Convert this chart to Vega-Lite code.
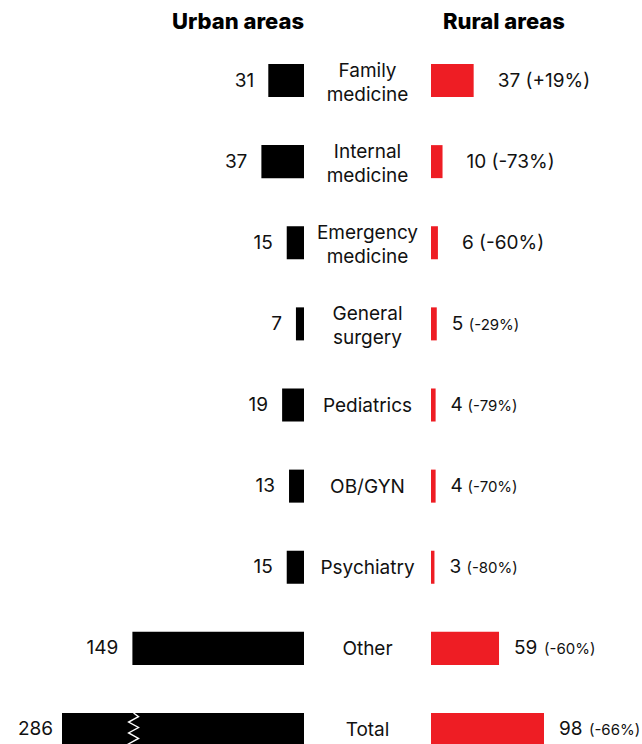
{
  "$schema": "https://vega.github.io/schema/vega-lite/v6.json",
  "padding": {"top": 8, "left": 0, "right": 0, "bottom": 0},
  "spacing": 0,
  "background": "white",
  "config": {
    "view": {"stroke": null},
    "font": "Inter",
    "title": {"font": "Inter", "fontSize": 22, "fontWeight": 800, "color": "#000", "offset": 30},
    "text": {"font": "Inter", "fontSize": 19, "color": "#111", "baseline": "middle"}
  },
  "data": {
    "values": [
      {"specialty": "Family\nmedicine", "urban": 31, "rural": 37, "change": "+19%"},
      {"specialty": "Internal\nmedicine", "urban": 37, "rural": 10, "change": "-73%"},
      {"specialty": "Emergency\nmedicine", "urban": 15, "rural": 6, "change": "-60%"},
      {"specialty": "General\nsurgery", "urban": 7, "rural": 5, "change": "-29%"},
      {"specialty": "Pediatrics", "urban": 19, "rural": 4, "change": "-79%"},
      {"specialty": "OB/GYN", "urban": 13, "rural": 4, "change": "-70%"},
      {"specialty": "Psychiatry", "urban": 15, "rural": 3, "change": "-80%"},
      {"specialty": "Other", "urban": 149, "rural": 59, "change": "-60%"},
      {"specialty": "Total", "urban": 286, "rural": 98, "change": "-66%"}
    ]
  },
  "transform": [
    {"calculate": "datum.rural + ' (' + datum.change + ')'", "as": "ruralLabel"},
    {"calculate": "'(' + datum.change + ')'", "as": "pctLabel"}
  ],
  "hconcat": [
    {
      "width": 304,
      "height": 682,
      "title": {"text": "Urban areas", "anchor": "end"},
      "encoding": {
        "y": {"field": "specialty", "type": "nominal", "axis": null,
              "sort": ["Family\nmedicine", "Internal\nmedicine", "Emergency\nmedicine", "General\nsurgery", "Pediatrics", "OB/GYN", "Psychiatry", "Other", "Total"],
              "scale": {"type": "band", "paddingInner": 0.593, "paddingOuter": 0}}
      },
      "layer": [
        {
          "mark": {"type": "bar", "color": "#000"},
          "encoding": {
            "x": {"field": "urban", "type": "quantitative", "axis": null,
                  "scale": {"domain": [0, 149, 286], "range": [304, 132.4, 62], "nice": false, "zero": false}}
          }
        },
        {
          "transform": [{"filter": "datum.specialty != 'Total'"}],
          "mark": {"type": "text", "align": "right", "dx": -14},
          "encoding": {
            "x": {"field": "urban", "type": "quantitative"},
            "text": {"field": "urban", "type": "quantitative"}
          }
        },
        {
          "transform": [{"filter": "datum.specialty == 'Total'"}],
          "mark": {"type": "text", "align": "right", "dx": -9},
          "encoding": {
            "x": {"field": "urban", "type": "quantitative"},
            "text": {"field": "urban", "type": "quantitative"}
          }
        },
        {
          "transform": [{"filter": "datum.specialty == 'Total'"}],
          "mark": {"type": "point", "shape": "M0,-1L0.3,-0.78L-0.3,-0.45L0.3,-0.12L-0.3,0.21L0.3,0.54L-0.3,0.87L0,1", "filled": false, "stroke": "white", "strokeWidth": 1.4, "size": 1089, "opacity": 1},
          "encoding": {
            "x": {"datum": 148, "type": "quantitative"}
          }
        }
      ]
    },
    {
      "width": 127,
      "height": 682,
      "title": {"text": " ", "anchor": "middle"},
      "encoding": {
        "y": {"field": "specialty", "type": "nominal", "axis": null,
              "sort": ["Family\nmedicine", "Internal\nmedicine", "Emergency\nmedicine", "General\nsurgery", "Pediatrics", "OB/GYN", "Psychiatry", "Other", "Total"],
              "scale": {"type": "band", "paddingInner": 0.593, "paddingOuter": 0}},
        "text": {"field": "specialty", "type": "nominal"}
      },
      "layer": [
        {
          "transform": [{"filter": {"field": "specialty", "oneOf": ["Pediatrics", "OB/GYN", "Psychiatry", "Other", "Total"]}}],
          "mark": {"type": "text", "dy": 1}
        },
        {
          "transform": [{"filter": {"field": "specialty", "oneOf": ["Family\nmedicine", "Internal\nmedicine", "Emergency\nmedicine", "General\nsurgery"]}}],
          "mark": {"type": "text", "lineBreak": "\n", "lineHeight": 24, "dy": -10}
        }
      ]
    },
    {
      "width": 211,
      "height": 682,
      "title": {"text": "Rural areas", "anchor": "start", "dx": 12},
      "encoding": {
        "y": {"field": "specialty", "type": "nominal", "axis": null,
              "sort": ["Family\nmedicine", "Internal\nmedicine", "Emergency\nmedicine", "General\nsurgery", "Pediatrics", "OB/GYN", "Psychiatry", "Other", "Total"],
              "scale": {"type": "band", "paddingInner": 0.593, "paddingOuter": 0}}
      },
      "layer": [
        {
          "mark": {"type": "bar", "color": "#ee1d24"},
          "encoding": {
            "x": {"field": "rural", "type": "quantitative", "axis": null,
                  "scale": {"domain": [0, 183], "nice": false}}
          }
        },
        {
          "transform": [{"filter": {"field": "specialty", "oneOf": ["Family\nmedicine", "Internal\nmedicine", "Emergency\nmedicine"]}}],
          "mark": {"type": "text", "align": "left", "dx": 24},
          "encoding": {
            "x": {"field": "rural", "type": "quantitative"},
            "text": {"field": "ruralLabel", "type": "nominal"}
          }
        },
        {
          "transform": [{"filter": {"field": "specialty", "oneOf": ["General\nsurgery", "Pediatrics", "OB/GYN", "Psychiatry", "Other", "Total"]}}],
          "mark": {"type": "text", "align": "left", "dx": 15},
          "encoding": {
            "x": {"field": "rural", "type": "quantitative"},
            "text": {"field": "rural", "type": "quantitative"}
          }
        },
        {
          "transform": [{"filter": {"field": "specialty", "oneOf": ["General\nsurgery", "Pediatrics", "OB/GYN", "Psychiatry"]}}],
          "mark": {"type": "text", "align": "left", "dx": 32, "fontSize": 15, "dy": 1},
          "encoding": {
            "x": {"field": "rural", "type": "quantitative"},
            "text": {"field": "pctLabel", "type": "nominal"}
          }
        },
        {
          "transform": [{"filter": {"field": "specialty", "oneOf": ["Other", "Total"]}}],
          "mark": {"type": "text", "align": "left", "dx": 45, "fontSize": 15, "dy": 1},
          "encoding": {
            "x": {"field": "rural", "type": "quantitative"},
            "text": {"field": "pctLabel", "type": "nominal"}
          }
        }
      ]
    }
  ]
}
